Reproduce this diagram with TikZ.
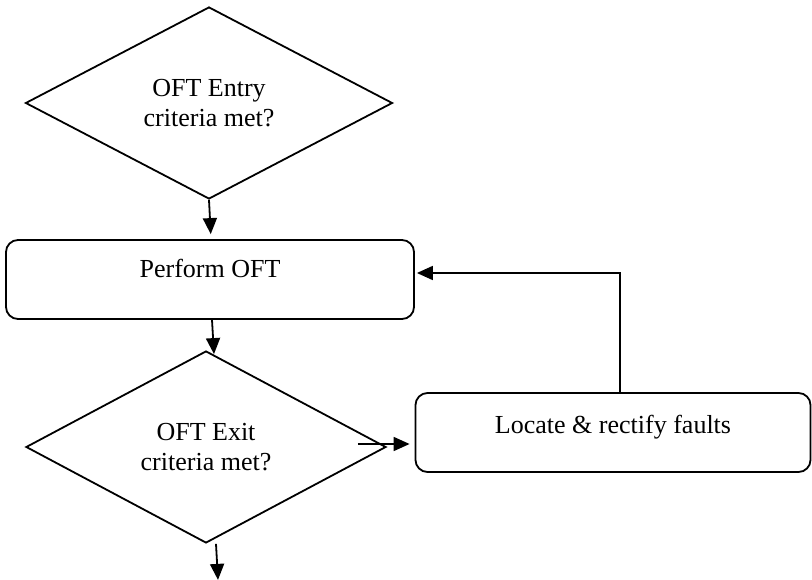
\documentclass[tikz,border=0pt]{standalone}
\usepackage{fontspec}
\setmainfont{Liberation Serif}
\usetikzlibrary{shapes.geometric,arrows.meta}

\begin{document}
\begin{tikzpicture}[x=1pt, y=-1pt, line width=1.8pt,
  font=\fontsize{26}{30}\selectfont,
  check/.style={diamond, draw, align=center, inner sep=0pt},
  task/.style={rectangle, draw, rounded corners=12pt, text height=18pt},
  flow/.style={-{Triangle[length=16pt,width=14pt]}}]
  \useasboundingbox (0,0) rectangle (812,580);
  \node[check, minimum width=367pt, minimum height=192pt] (entry) at (209,103) {OFT Entry\\criteria met?};
  \node[task, minimum width=408pt, minimum height=79pt, text depth=21pt] (perform) at (210,279.5) {Perform OFT};
  \node[check, minimum width=360pt, minimum height=192pt] (exit) at (206,447) {OFT Exit\\criteria met?};
  \node[task, minimum width=395pt, minimum height=79pt, text depth=17pt] (locate) at (613,432.5) {Locate \& rectify faults};
  \coordinate (exitout) at ([xshift=-29pt,yshift=3pt]exit.east);
  \coordinate (done) at ([xshift=12pt,yshift=-36pt]exit.south);
  \draw[flow, shorten >=5pt] (entry.south) -- ([xshift=1pt]perform.north);
  \draw[flow] ([xshift=2pt]perform.south) -- ([xshift=8pt,yshift=-4pt]exit.north);
  \draw[flow, shorten >=5pt] (exitout) -- (exitout -| locate.west);
  \draw[flow, shorten >=2pt] ([xshift=7pt]locate.north) |- ([yshift=6.5pt]perform.east);
  \draw[flow] ([xshift=10pt]exit.south) -- (done);
\end{tikzpicture}
\end{document}
